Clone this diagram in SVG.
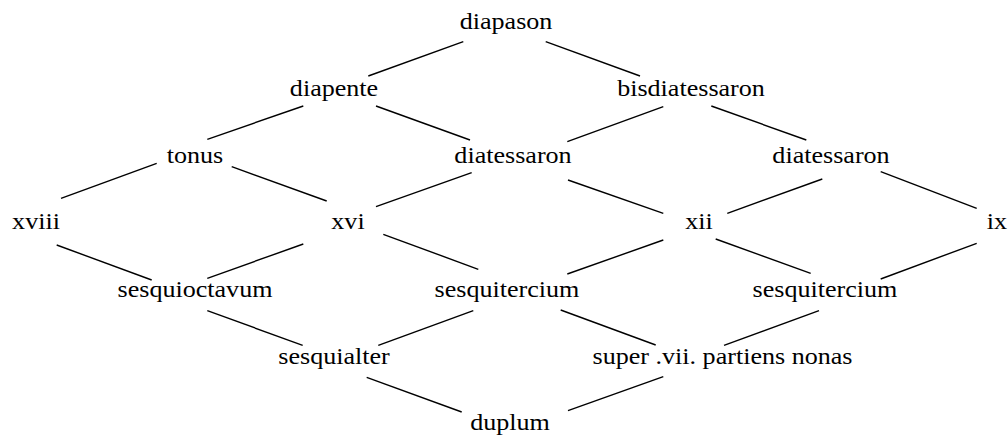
<svg xmlns="http://www.w3.org/2000/svg" width="1008" height="438" viewBox="0 0 1008 438">
  <style>
    .lbl { font-size: 23.5px; fill: #000; text-anchor: middle; }
    .edges line { stroke: #000; stroke-width: 1.4; stroke-linecap: butt; }
  </style>
  <rect width="1008" height="438" fill="#fff"/>

  <!-- connectors -->
  <g id="edges" class="edges">
    <line x1="463.3" y1="41.7" x2="368.3" y2="76"/>
    <line x1="545.7" y1="41.7" x2="640" y2="76"/>
    <line x1="303.3" y1="106" x2="207.3" y2="139.3"/>
    <line x1="376" y1="106" x2="470" y2="140"/>
    <line x1="663.3" y1="106.7" x2="567.3" y2="141.7"/>
    <line x1="711.3" y1="106" x2="806.3" y2="140"/>
    <line x1="156.7" y1="163.3" x2="61" y2="198.3"/>
    <line x1="231.7" y1="166.7" x2="326.7" y2="201"/>
    <line x1="471.7" y1="172.7" x2="376" y2="206.7"/>
    <line x1="568" y1="180" x2="663.3" y2="213.3"/>
    <line x1="822.3" y1="179" x2="727.3" y2="213.3"/>
    <line x1="880.7" y1="171.7" x2="976.7" y2="208.3"/>
    <line x1="56.7" y1="245" x2="151.7" y2="280"/>
    <line x1="303.3" y1="244" x2="207.3" y2="278.3"/>
    <line x1="383.3" y1="234.3" x2="478.3" y2="269.3"/>
    <line x1="663.3" y1="240" x2="567.3" y2="274"/>
    <line x1="715.7" y1="239" x2="810.7" y2="273.3"/>
    <line x1="976.7" y1="243.3" x2="880.7" y2="279"/>
    <line x1="207.3" y1="310.7" x2="302.7" y2="345.3"/>
    <line x1="473.3" y1="310.7" x2="378.3" y2="345.3"/>
    <line x1="560.7" y1="310" x2="655.7" y2="345"/>
    <line x1="819" y1="310.7" x2="724" y2="345.3"/>
    <line x1="366.7" y1="377.3" x2="461.7" y2="412"/>
    <line x1="663.3" y1="376.7" x2="568" y2="410.7"/>
  </g>

  <!-- nodes -->
  <g font-family="'Liberation Serif', 'Times New Roman', Times, serif">
    <g id="n-diapason" transform="translate(506,29) scale(1.11,1)"><text class="lbl">diapason</text></g>
    <g id="n-diapente" transform="translate(334,96) scale(1.11,1)"><text class="lbl">diapente</text></g>
    <g id="n-bisdiatessaron" transform="translate(691,96) scale(1.11,1)"><text class="lbl">bisdiatessaron</text></g>
    <g id="n-tonus" transform="translate(195,163) scale(1.11,1)"><text class="lbl">tonus</text></g>
    <g id="n-diatessaron-1" transform="translate(513,163) scale(1.11,1)"><text class="lbl">diatessaron</text></g>
    <g id="n-diatessaron-2" transform="translate(831,163) scale(1.11,1)"><text class="lbl">diatessaron</text></g>
    <g id="n-xviii" transform="translate(36,229) scale(1.11,1)"><text class="lbl">xviii</text></g>
    <g id="n-xvi" transform="translate(348,229) scale(1.11,1)"><text class="lbl">xvi</text></g>
    <g id="n-xii" transform="translate(699,229) scale(1.11,1)"><text class="lbl">xii</text></g>
    <g id="n-ix" transform="translate(997,229) scale(1.11,1)"><text class="lbl">ix</text></g>
    <g id="n-sesquioctavum" transform="translate(195,297) scale(1.11,1)"><text class="lbl">sesquioctavum</text></g>
    <g id="n-sesquitercium-1" transform="translate(507,297) scale(1.11,1)"><text class="lbl">sesquitercium</text></g>
    <g id="n-sesquitercium-2" transform="translate(825,297) scale(1.11,1)"><text class="lbl">sesquitercium</text></g>
    <g id="n-sesquialter" transform="translate(334,364) scale(1.11,1)"><text class="lbl">sesquialter</text></g>
    <g id="n-super-vii" transform="translate(722.5,364) scale(1.11,1)"><text class="lbl">super .vii. partiens nonas</text></g>
    <g id="n-duplum" transform="translate(510,430) scale(1.11,1)"><text class="lbl">duplum</text></g>
  </g>
</svg>
